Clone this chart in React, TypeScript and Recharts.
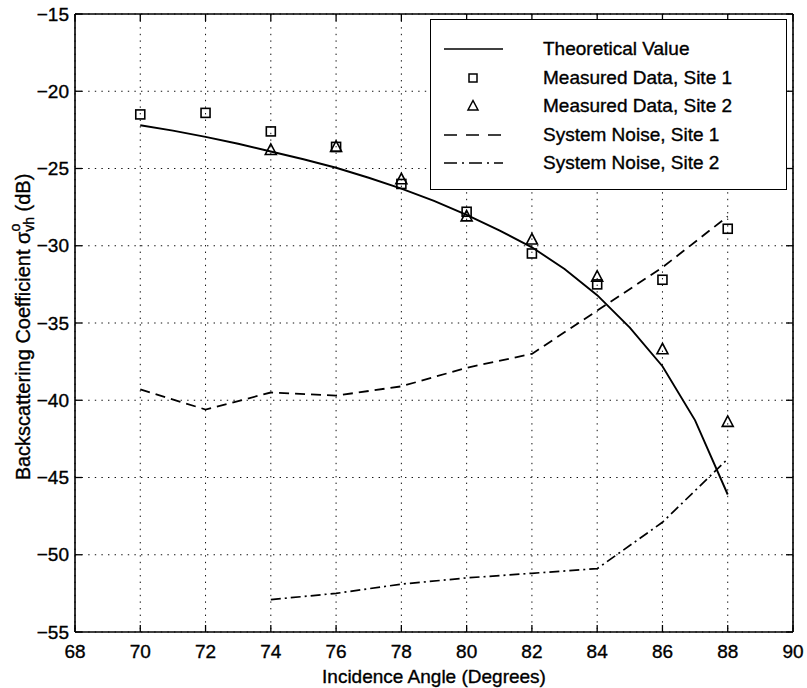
import React from 'react';
import {
  ComposedChart,
  Line,
  Scatter,
  XAxis,
  YAxis,
  CartesianGrid,
  Legend,
  Label,
  ReferenceLine,
} from 'recharts';

// Theoretical backscattering curve (1-degree steps)
const theoryAngles = [70, 71, 72, 73, 74, 75, 76, 77, 78, 79, 80, 81, 82, 83, 84, 85, 86, 87, 88];
const theoryValues = [
  -22.2, -22.55, -22.95, -23.4, -23.9, -24.4, -24.95, -25.6, -26.3, -27.1,
  -28.0, -29.0, -30.1, -31.5, -33.2, -35.3, -37.8, -41.3, -46.1,
];

// Site 1 measurements and noise floor
const site1Angles = [70, 72, 74, 76, 78, 80, 82, 84, 86, 88];
const site1Values = [-21.5, -21.4, -22.6, -23.6, -26.0, -27.8, -30.5, -32.5, -32.2, -28.9];
const noise1Values = [-39.3, -40.6, -39.5, -39.7, -39.1, -37.9, -37.0, -34.2, -31.4, -28.1];

// Site 2 measurements and noise floor
const site2Angles = [74, 76, 78, 80, 82, 84, 86, 88];
const site2Values = [-23.8, -23.6, -25.7, -28.1, -29.6, -32.0, -36.7, -41.4];
const noise2Values = [-52.9, -52.5, -51.9, -51.5, -51.2, -50.9, -47.9, -43.8];

const xTicks = [68, 70, 72, 74, 76, 78, 80, 82, 84, 86, 88, 90];
const yTicks = [-55, -50, -45, -40, -35, -30, -25, -20, -15];
const xDomain: [number, number] = [68, 90];
const yDomain: [number, number] = [-55, -15];

const seriesNames = [
  'Theoretical Value',
  'Measured Data, Site 1',
  'Measured Data, Site 2',
  'System Noise, Site 1',
  'System Noise, Site 2',
];

const pairs = (xs: number[], ys: number[]) => xs.map((x, i) => ({ x, y: ys[i] }));

const theoryData = pairs(theoryAngles, theoryValues);
const site1Data = pairs(site1Angles, site1Values);
const site2Data = pairs(site2Angles, site2Values);
const noise1Data = pairs(site1Angles, noise1Values);
const noise2Data = pairs(site2Angles, noise2Values);

// Layout of the chart surface
const WIDTH = 807;
const HEIGHT = 688;
const MARGIN = { top: 14, right: 14, left: 0, bottom: 0 };
const Y_AXIS_W = 75;
const X_AXIS_H = 56;
const PLOT = {
  left: MARGIN.left + Y_AXIS_W,
  top: MARGIN.top,
  right: WIDTH - MARGIN.right,
  bottom: HEIGHT - MARGIN.bottom - X_AXIS_H,
};
const TICK_LEN = 7;

const FONT = '"Liberation Sans", Arial, Helvetica, sans-serif';
const INK = '#000';
const DASH = '10 6';
const DASH_DOT = '10 4 2 4';

const fmt = (v: number) => (v < 0 ? '\u2212' + Math.abs(v) : String(v));
const textInk = { fill: INK, stroke: INK, strokeWidth: 0.35 };

// Bottom tick: label below the frame, inward marks on the bottom and top edges
const XTick = (props: any) => {
  const { x, y, payload } = props;
  return (
    <g>
      <line x1={x} x2={x} y1={PLOT.bottom} y2={PLOT.bottom - TICK_LEN} stroke={INK} strokeWidth={1.3} />
      <line x1={x} x2={x} y1={PLOT.top} y2={PLOT.top + TICK_LEN} stroke={INK} strokeWidth={1.3} />
      <text x={x} y={y} dy="0.71em" textAnchor="middle" fontFamily={FONT} fontSize={19} {...textInk}>
        {fmt(payload.value)}
      </text>
    </g>
  );
};

// Left tick: label left of the frame, inward marks on the left and right edges
const YTick = (props: any) => {
  const { x, y, payload } = props;
  return (
    <g>
      <line x1={PLOT.left} x2={PLOT.left + TICK_LEN} y1={y} y2={y} stroke={INK} strokeWidth={1.3} />
      <line x1={PLOT.right} x2={PLOT.right - TICK_LEN} y1={y} y2={y} stroke={INK} strokeWidth={1.3} />
      <text x={x} y={y} dy="0.355em" textAnchor="end" fontFamily={FONT} fontSize={19} {...textInk}>
        {fmt(payload.value)}
      </text>
    </g>
  );
};

const SquareMark = (props: any) => {
  const { cx, cy } = props;
  if (cx == null || cy == null) return null;
  return <rect x={cx - 4.5} y={cy - 4.5} width={9} height={9} fill="none" stroke={INK} strokeWidth={1.6} />;
};

const TriangleMark = (props: any) => {
  const { cx, cy } = props;
  if (cx == null || cy == null) return null;
  return (
    <polygon
      points={`${cx},${cy - 6} ${cx - 5.5},${cy + 4.5} ${cx + 5.5},${cy + 4.5}`}
      fill="none"
      stroke={INK}
      strokeWidth={1.6}
    />
  );
};

const YTitle = (props: any) => {
  const vb = props.viewBox || { x: 0, y: PLOT.top, width: Y_AXIS_W, height: PLOT.bottom - PLOT.top };
  const cx = 23;
  const cy = vb.y + vb.height / 2 + 4;
  return (
    <text
      x={cx}
      y={cy}
      transform={`rotate(-90, ${cx}, ${cy})`}
      textAnchor="middle"
      dominantBaseline="central"
      fontFamily={FONT}
      fontSize={20}
      {...textInk}
    >
      Backscattering Coefficient σ
      <tspan dy={-8} fontSize={14}>o</tspan>
      <tspan dx={-8} dy={14} fontSize={14}>vh</tspan>
      <tspan dy={-6}> (dB)</tspan>
    </text>
  );
};

const XTitle = (props: any) => {
  const vb = props.viewBox || { x: PLOT.left, y: PLOT.bottom, width: PLOT.right - PLOT.left, height: X_AXIS_H };
  return (
    <text
      x={vb.x + vb.width / 2}
      y={vb.y + 51}
      textAnchor="middle"
      fontFamily={FONT}
      fontSize={19}
      {...textInk}
    >
      Incidence Angle (Degrees)
    </text>
  );
};

const LegendSample = ({ kind }: { kind: string }) => (
  <svg width={62} height={16} style={{ display: 'block' }}>
    {kind === 'solid' && <line x1={1} y1={8} x2={60} y2={8} stroke={INK} strokeWidth={1.6} />}
    {kind === 'dash' && (
      <line x1={1} y1={8} x2={60} y2={8} stroke={INK} strokeWidth={1.6} strokeDasharray="13 9" />
    )}
    {kind === 'dashdot' && (
      <line x1={1} y1={8} x2={60} y2={8} stroke={INK} strokeWidth={1.6} strokeDasharray="13 5 2 5" />
    )}
    {kind === 'square' && <rect x={26} y={4} width={8} height={8} fill="none" stroke={INK} strokeWidth={1.5} />}
    {kind === 'triangle' && (
      <polygon points="30,2.5 25,12 35,12" fill="none" stroke={INK} strokeWidth={1.5} />
    )}
  </svg>
);

const legendKinds = ['solid', 'square', 'triangle', 'dash', 'dashdot'];

const LegendBox = () => (
  <div
    style={{
      position: 'relative',
      width: 357,
      height: 171,
      border: '1.5px solid #000',
      boxSizing: 'border-box',
      background: '#fff',
      fontFamily: FONT,
      fontSize: 19,
      color: INK,
      WebkitTextStroke: '0.35px #000',
    }}
  >
    {seriesNames.map((name, i) => {
      const cy = 29 + i * 28.5;
      return (
        <div key={name}>
          <div style={{ position: 'absolute', left: 12, top: cy - 8 }}>
            <LegendSample kind={legendKinds[i]} />
          </div>
          <div
            style={{
              position: 'absolute',
              left: 112,
              top: cy - 12,
              height: 24,
              lineHeight: '24px',
              whiteSpace: 'nowrap',
            }}
          >
            {name}
          </div>
        </div>
      );
    })}
  </div>
);

export default function App() {
  return (
    <div style={{ position: 'fixed', left: 0, top: 0, width: WIDTH, height: HEIGHT, background: '#fff' }}>
      <ComposedChart width={WIDTH} height={HEIGHT} margin={MARGIN}>
        <CartesianGrid
          stroke="#111"
          strokeDasharray="1.4 5.2"
          strokeWidth={1}
          horizontalValues={yTicks}
          verticalValues={xTicks}
        />
        <XAxis
          dataKey="x"
          type="number"
          domain={xDomain}
          ticks={xTicks}
          allowDataOverflow
          height={X_AXIS_H}
          axisLine={{ stroke: INK, strokeWidth: 1.6 }}
          tickLine={false}
          tickSize={0}
          tickMargin={13}
          tick={<XTick />}
        >
          <Label content={<XTitle />} />
        </XAxis>
        <YAxis
          dataKey="y"
          type="number"
          domain={yDomain}
          ticks={yTicks}
          allowDataOverflow
          width={Y_AXIS_W}
          axisLine={{ stroke: INK, strokeWidth: 1.6 }}
          tickLine={false}
          tickSize={0}
          tickMargin={6}
          tick={<YTick />}
        >
          <Label content={<YTitle />} />
        </YAxis>

        {/* top and right edges of the frame */}
        <ReferenceLine y={yDomain[1]} stroke={INK} strokeWidth={1.6} />
        <ReferenceLine x={xDomain[1]} stroke={INK} strokeWidth={1.6} />

        <Line
          data={noise1Data}
          dataKey="y"
          name={seriesNames[3]}
          stroke={INK}
          strokeWidth={1.8}
          strokeDasharray={DASH}
          dot={false}
          activeDot={false}
          type="linear"
          isAnimationActive={false}
        />
        <Line
          data={noise2Data}
          dataKey="y"
          name={seriesNames[4]}
          stroke={INK}
          strokeWidth={1.7}
          strokeDasharray={DASH_DOT}
          dot={false}
          activeDot={false}
          type="linear"
          isAnimationActive={false}
        />
        <Line
          data={theoryData}
          dataKey="y"
          name={seriesNames[0]}
          stroke={INK}
          strokeWidth={1.9}
          dot={false}
          activeDot={false}
          type="linear"
          isAnimationActive={false}
        />
        <Scatter
          data={site1Data}
          dataKey="y"
          name={seriesNames[1]}
          shape={<SquareMark />}
          isAnimationActive={false}
        />
        <Scatter
          data={site2Data}
          dataKey="y"
          name={seriesNames[2]}
          shape={<TriangleMark />}
          isAnimationActive={false}
        />

        <Legend
          layout="vertical"
          align="center"
          verticalAlign="middle"
          content={<LegendBox />}
          wrapperStyle={{ left: 430, top: 19, width: 357, height: 171 }}
        />
      </ComposedChart>
    </div>
  );
}
